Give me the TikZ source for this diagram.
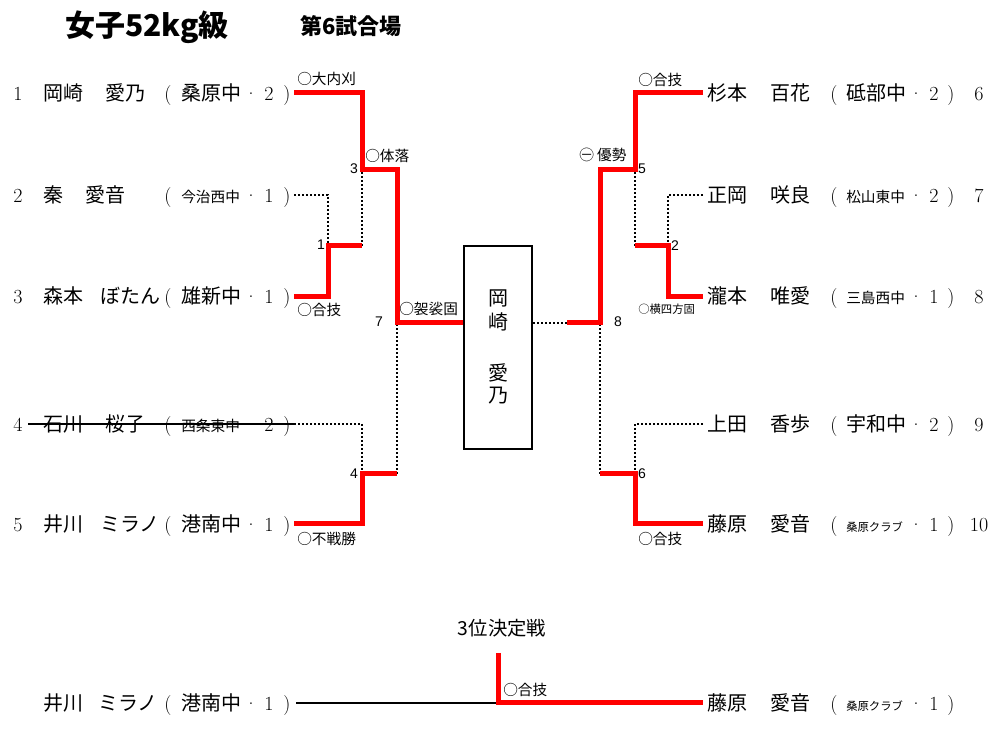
\documentclass[tikz,border=0pt]{standalone}
\usepackage{fontspec}
\newfontfamily\jp{Noto Sans CJK JP}
\newfontfamily\ar{Liberation Sans}
\definecolor{bred}{RGB}{255,0,0}
\tikzset{
  nm/.style={font=\jp\fontsize{15}{15}\selectfont, inner sep=0, anchor=base west},
  smsch/.style={font=\jp\fontsize{11}{11}\selectfont, inner sep=0, anchor=base west},
  tinysch/.style={font=\jp\fontsize{8.5}{8.5}\selectfont, inner sep=0, anchor=base west},
  srf/.style={font=\fontsize{15}{15}\selectfont, inner sep=0, anchor=base},
  lab/.style={font=\jp\fontsize{11}{11}\selectfont, inner sep=0, anchor=base west},
  tlab/.style={font=\jp\fontsize{8.5}{8.5}\selectfont, inner sep=0, anchor=base west},
  mnum/.style={font=\ar\fontsize{10.5}{10.5}\selectfont, inner sep=0, anchor=base},
  win/.style={draw=bred, line width=3.75pt, line join=miter},
  lose/.style={draw=black, line width=1.5pt, dash pattern=on 1.5pt off 1.5pt},
}
% #1 id, #2 y, #3 num, #4 family, #5 given x, #6 given, #7 school style, #8 school, #9 grade
\newcommand\Lrow[9]{%
  \node[srf] (#1n) at (18,{#2+7.5}) {#3};
  \node[nm] (#1f) at (43,{#2+7.5}) {#4};
  \node[nm] (#1g) at (#5,{#2+7.5}) {#6};
  \node[srf] (#1o) at (168,{#2+7.5}) {(};
  \node[#7] (#1s) at (181,{#2+7.5}) {#8};
  \node[srf] (#1d) at (251,{#2+7.5}) {·};
  \node[srf] (#1y) at (269,{#2+7.5}) {#9};
  \node[srf] (#1c) at (287,{#2+7.5}) {)};
}
% #1 id, #2 y, #3 family, #4 given, #5 school style, #6 school, #7 grade, #8 num
\newcommand\Rrow[8]{%
  \node[nm] (#1f) at (707,{#2+7.5}) {#3};
  \node[nm] (#1g) at (770,{#2+7.5}) {#4};
  \node[srf] (#1o) at (834,{#2+7.5}) {(};
  \node[#5] (#1s) at (846,{#2+7.5}) {#6};
  \node[srf] (#1d) at (916,{#2+7.5}) {·};
  \node[srf] (#1y) at (934,{#2+7.5}) {#7};
  \node[srf] (#1c) at (951,{#2+7.5}) {)};
  \node[srf] (#1n) at (979,{#2+7.5}) {#8};
}
\begin{document}
\begin{tikzpicture}[x=0.75pt,y=-0.75pt]
\useasboundingbox[fill=white] (0,0) rectangle (1008,741);

% titles
\node[font=\jp\bfseries\fontsize{22.5}{22.5}\selectfont, inner sep=0, anchor=base west] (title) at (65,37) {女子52kg級};
\node[font=\jp\bfseries\fontsize{16.5}{16.5}\selectfont, inner sep=0, anchor=base west] (venue) at (300,35) {第6試合場};

% left entries
\Lrow{La}{93}{1}{岡崎}{105}{愛乃}{nm}{桑原中}{2}
\Lrow{Lb}{195}{2}{秦}{85}{愛音}{smsch}{今治西中}{1}
\Lrow{Lc}{296}{3}{森本}{100}{ぼたん}{nm}{雄新中}{1}
\Lrow{Ld}{424}{4}{石川}{105}{桜子}{smsch}{西条東中}{2}
\Lrow{Le}{524}{5}{井川}{100}{ミラノ}{nm}{港南中}{1}

% right entries
\Rrow{Ra}{93}{杉本}{百花}{nm}{砥部中}{2}{6}
\Rrow{Rb}{195}{正岡}{咲良}{smsch}{松山東中}{2}{7}
\Rrow{Rc}{296}{瀧本}{唯愛}{smsch}{三島西中}{1}{8}
\Rrow{Rd}{424}{上田}{香歩}{nm}{宇和中}{2}{9}
\Rrow{Re}{524}{藤原}{愛音}{tinysch}{桑原クラブ}{1}{10}

% champion box
\node[draw, line width=1.5pt, minimum width=51pt, minimum height=152.25pt, inner sep=0] (box) at (498,347.5) {};
\node[font=\jp\fontsize{15}{15}\selectfont, inner sep=0] (w1) at (498,298) {岡};
\node[font=\jp\fontsize{15}{15}\selectfont, inner sep=0] (w2) at (498,322) {崎};
\node[font=\jp\fontsize{15}{15}\selectfont, inner sep=0] (w3) at (498,373) {愛};
\node[font=\jp\fontsize{15}{15}\selectfont, inner sep=0] (w4) at (498,396) {乃};

% left bracket coordinates
\coordinate (A1) at (294,93);  \coordinate (A1c) at (362,93);
\coordinate (A2) at (294,195); \coordinate (A2c) at (328,195);
\coordinate (A3) at (294,297); \coordinate (A3c) at (328,297);
\coordinate (A4) at (294,424); \coordinate (A4c) at (362,424);
\coordinate (A5) at (294,524); \coordinate (A5c) at (362,524);
\coordinate (M1) at (328,246); \coordinate (M1r) at (362,246);
\coordinate (M3) at (362,170); \coordinate (M3r) at (397,170);
\coordinate (M4) at (362,474); \coordinate (M4r) at (397,474);
\coordinate (M7) at (397,323);

% right bracket coordinates
\coordinate (B1) at (703,93);  \coordinate (B1c) at (635,93);
\coordinate (B2) at (703,195); \coordinate (B2c) at (668,195);
\coordinate (B3) at (703,297); \coordinate (B3c) at (668,297);
\coordinate (B4) at (703,424); \coordinate (B4c) at (635,424);
\coordinate (B5) at (703,524); \coordinate (B5c) at (635,524);
\coordinate (N2) at (668,246); \coordinate (N2l) at (635,246);
\coordinate (N5) at (635,170); \coordinate (N5l) at (600,170);
\coordinate (N6) at (635,474); \coordinate (N6l) at (600,474);
\coordinate (N8) at (600,323); \coordinate (N8l) at (567,323);

% strike-through of withdrawn entrant
\draw[line width=1.1pt] (28,424) -- (A4);

% losers (dotted)
\draw[lose] (A2) -- (A2c) -- (M1);
\draw[lose] (M1r) -- (M3);
\draw[lose] (A4) -- (A4c) -- (M4);
\draw[lose] (M4r) -- (M7);
\draw[lose] (box.east |- N8) -- (N8l);
\draw[lose] (B2) -- (B2c) -- (N2);
\draw[lose] (N2l) -- (N5);
\draw[lose] (B4) -- (B4c) -- (N6);
\draw[lose] (N6l) -- (N8);

% winners (red)
\draw[win] (A1) -- (A1c) -- (M3) -- (M3r) -- (M7) -- (box.west |- M7);
\draw[win] (A3) -- (A3c) -- (M1) -- (M1r);
\draw[win] (A5) -- (A5c) -- (M4) -- (M4r);
\draw[win] (B1) -- (B1c) -- (N5) -- (N5l) -- (N8) -- (N8l);
\draw[win] (B3) -- (B3c) -- (N2) -- (N2l);
\draw[win] (B5) -- (B5c) -- (N6) -- (N6l);

% match numbers
\node[mnum] (m3) at (354,174) {3};
\node[mnum] (m1) at (321,250) {1};
\node[mnum] (m7) at (379,327) {7};
\node[mnum] (m4) at (354,479) {4};
\node[mnum] (m5) at (642,174) {5};
\node[mnum] (m2) at (675,251) {2};
\node[mnum] (m8) at (618,327) {8};
\node[mnum] (m6) at (642,479) {6};

% results
\node[lab] (r1) at (297,84.5) {○大内刈};
\node[lab] (r2) at (365,161.5) {○体落};
\node[lab] (r3) at (297,315.5) {○合技};
\node[lab] (r4) at (399,314.5) {○袈裟固};
\node[lab] (r5) at (297,544.5) {○不戦勝};
\node[lab] (r6) at (638,86) {○合技};
\node[lab] (r7) at (579,161) {㊀ 優勢};
\node[tlab] (r8) at (638,314) {○横四方固};
\node[lab] (r9) at (638,544.5) {○合技};

% third place bout
\node[font=\jp\fontsize{14.5}{14.5}\selectfont, inner sep=0] (third) at (502,628) {3位決定戦};
\Lrow{Bl}{703}{}{井川}{98}{ミラノ}{nm}{港南中}{1}
\node[nm] (Brf) at (707,710.5) {藤原};
\node[nm] (Brg) at (770,710.5) {愛音};
\node[srf] (Bro) at (834,710.5) {(};
\node[tinysch] (Brs) at (846,710.5) {桑原クラブ};
\node[srf] (Brd) at (916,710.5) {·};
\node[srf] (Bry) at (934,710.5) {1};
\node[srf] (Brc) at (951,710.5) {)};
\coordinate (C1) at (296,703);
\coordinate (C2) at (498,703);
\coordinate (C3) at (498,653);
\coordinate (C4) at (703,703);
\draw[line width=1.5pt] (C1) -- (C2);
\draw[win] (C3) -- (C2) -- (C4);
\node[lab] (r10) at (503,695.5) {○合技};
\end{tikzpicture}
\end{document}
